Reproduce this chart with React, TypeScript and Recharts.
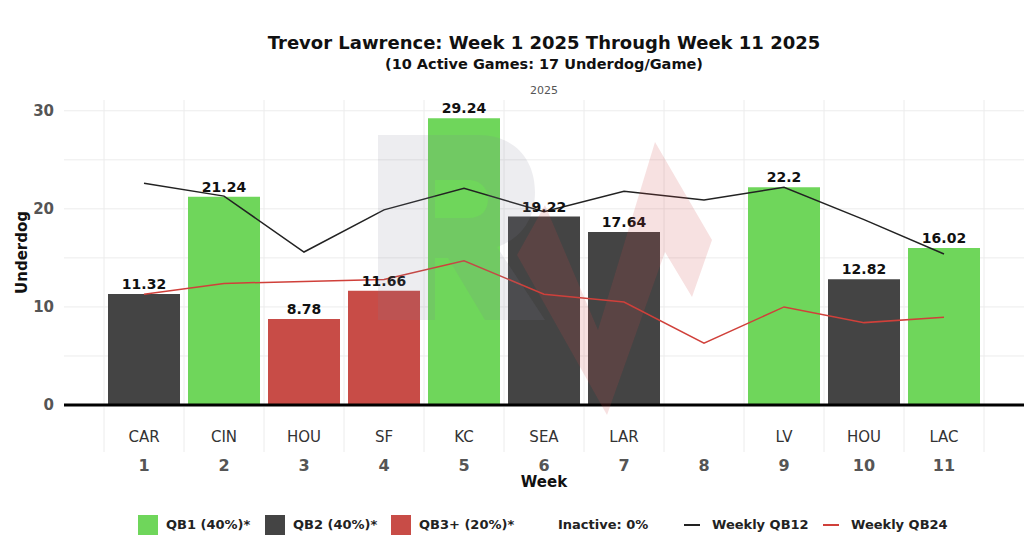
import React from 'react'
import {
  ComposedChart,
  Bar,
  Line,
  Cell,
  XAxis,
  YAxis,
  CartesianGrid,
  LabelList,
} from 'recharts'

// Trevor Lawrence weekly underdog points, weeks 1-11 of 2025

const weeks = [1, 2, 3, 4, 5, 6, 7, 8, 9, 10, 11]
const opponents = ['CAR', 'CIN', 'HOU', 'SF', 'KC', 'SEA', 'LAR', '', 'LV', 'HOU', 'LAC']
const points = [11.32, 21.24, 8.78, 11.66, 29.24, 19.22, 17.64, null, 22.2, 12.82, 16.02]
const tiers = ['QB2', 'QB1', 'QB3', 'QB3', 'QB1', 'QB2', 'QB2', '', 'QB1', 'QB2', 'QB1']
const weeklyQB12 = [22.6, 21.3, 15.6, 19.9, 22.1, 19.7, 21.8, 20.9, 22.2, 18.9, 15.4]
const weeklyQB24 = [11.3, 12.4, 12.6, 12.8, 14.7, 11.3, 10.5, 6.3, 10.0, 8.4, 8.95]

const yTicks = [0, 10, 20, 30]
const yGrid = [0, 5, 10, 15, 20, 25, 30]
const xDividers = [0.5, 1.5, 2.5, 3.5, 4.5, 5.5, 6.5, 7.5, 8.5, 9.5, 10.5, 11.5]

const TIER_COLORS: Record<string, string> = {
  QB1: '#6fd65b',
  QB2: '#444444',
  QB3: '#c84c47',
}

const WIDTH = 1024
const HEIGHT = 551
const X_AXIS_H = 146
const MARGIN = { top: 100, right: 0, bottom: 0, left: 0 }
const Y_AXIS_W = 64
const UNIT = (WIDTH - Y_AXIS_W) / 12

const FONT = '"DejaVu Sans", sans-serif'

const data = weeks.map((week, i) => ({
  week,
  opponent: opponents[i],
  points: points[i],
  tier: tiers[i],
  qb12: weeklyQB12[i],
  qb24: weeklyQB24[i],
}))

function WeekTick(props: any) {
  const { x, y, payload, index } = props
  const i = weeks.indexOf(payload.value)
  return (
    <g>
      <line x1={x - UNIT / 2} x2={x - UNIT / 2} y1={y - 6} y2={y + 39} stroke="#ececec" />
      {index === weeks.length - 1 && (
        <line x1={x + UNIT / 2} x2={x + UNIT / 2} y1={y - 6} y2={y + 39} stroke="#ececec" />
      )}
      <text x={x} y={y + 29} textAnchor="middle" fontSize={15} fill="#333" fontFamily={FONT}>
        {opponents[i]}
      </text>
      <text x={x} y={y + 58} textAnchor="middle" fontSize={16} fontWeight="bold" fill="#555" fontFamily={FONT}>
        {payload.value}
      </text>
    </g>
  )
}

const legendItems = [
  { kind: 'box', color: TIER_COLORS.QB1, label: 'QB1 (40%)*', x: 138 },
  { kind: 'box', color: TIER_COLORS.QB2, label: 'QB2 (40%)*', x: 265 },
  { kind: 'box', color: TIER_COLORS.QB3, label: 'QB3+ (20%)*', x: 391 },
  { kind: 'none', color: '', label: 'Inactive: 0%', x: 558 },
  { kind: 'line', color: '#222', label: 'Weekly QB12', x: 684 },
  { kind: 'line', color: '#d0403a', label: 'Weekly QB24', x: 823 },
]

export default function App() {
  return (
    <div style={{ position: 'relative', width: WIDTH, height: HEIGHT, fontFamily: FONT, background: '#fff' }}>
      <style>{'body{margin:0}'}</style>

      <div style={{ position: 'absolute', top: 32, left: 64, right: 0, textAlign: 'center', fontSize: 18, fontWeight: 'bold', color: '#111' }}>
        Trevor Lawrence: Week 1 2025 Through Week 11 2025
      </div>
      <div style={{ position: 'absolute', top: 56, left: 64, right: 0, textAlign: 'center', fontSize: 14.5, fontWeight: 'bold', color: '#111' }}>
        (10 Active Games: 17 Underdog/Game)
      </div>
      <div style={{ position: 'absolute', top: 84, left: 64, right: 0, textAlign: 'center', fontSize: 11, color: '#555' }}>
        2025
      </div>

      <div style={{ position: 'absolute', left: 0, top: 0 }}>
        <ComposedChart width={WIDTH} height={HEIGHT} data={data} margin={MARGIN}>
          <CartesianGrid stroke="#ececec" horizontalValues={yGrid} verticalValues={xDividers} />
          <XAxis
            dataKey="week"
            type="number"
            domain={[0, 12]}
            ticks={weeks}
            interval={0}
            tickLine={false}
            axisLine={{ stroke: '#000', strokeWidth: 3 }}
            tick={<WeekTick />}
            height={X_AXIS_H}
          />
          <YAxis
            domain={[0, 31.1]}
            ticks={yTicks}
            width={Y_AXIS_W}
            axisLine={false}
            tickLine={false}
            tick={{ fontSize: 15, fontWeight: 'bold', fill: '#555', fontFamily: FONT }}
            tickMargin={4}
            allowDataOverflow
            label={{
              value: 'Underdog',
              angle: -90,
              position: 'insideLeft',
              offset: 22,
              style: { fontSize: 15, fontWeight: 'bold', fill: '#111', fontFamily: FONT, textAnchor: 'middle' },
            }}
          />
          <Bar dataKey="points" barSize={72} isAnimationActive={false}>
            {data.map((d, i) => (
              <Cell key={i} fill={TIER_COLORS[d.tier] ?? 'transparent'} />
            ))}
            <LabelList
              dataKey="points"
              position="top"
              offset={5}
              style={{ fontSize: 14, fontWeight: 'bold', fill: '#111', fontFamily: FONT }}
            />
          </Bar>
          <Line dataKey="qb12" stroke="#222" strokeWidth={1.5} dot={false} isAnimationActive={false} />
          <Line dataKey="qb24" stroke="#d0403a" strokeWidth={1.5} dot={false} isAnimationActive={false} />
        </ComposedChart>
      </div>

      {/* faint logo watermark laid over the plot */}
      <svg width={WIDTH} height={HEIGHT} style={{ position: 'absolute', left: 0, top: 0, pointerEvents: 'none' }}>
        <path
          fillRule="evenodd"
          fill="rgba(125,130,150,0.14)"
          d="M378,135 L478,135 C515,135 535,160 535,192 C535,222 518,240 497,247 L545,320 L485,320 L448,258 L435,258 L435,320 L378,320 Z M435,180 L468,180 C482,180 488,190 488,199 C488,210 482,218 468,218 L435,218 Z"
        />
        <polygon
          fill="rgba(205,70,70,0.16)"
          points="545,205 598,330 655,142 712,240 692,297 665,252 607,415 517,255"
        />
      </svg>

      <div style={{ position: 'absolute', left: 64, right: 0, top: 473, textAlign: 'center', fontSize: 15, fontWeight: 'bold', color: '#111' }}>
        Week
      </div>

      {legendItems.map((item) => (
        <div
          key={item.label}
          style={{ position: 'absolute', left: item.x, top: 514, height: 21, display: 'flex', alignItems: 'center', fontSize: 13, fontWeight: 'bold', color: '#222' }}
        >
          {item.kind === 'box' && (
            <span style={{ width: 20, height: 20, background: item.color, marginRight: 8, display: 'inline-block' }} />
          )}
          {item.kind === 'line' && (
            <span style={{ width: 16, height: 2, background: item.color, marginRight: 12, display: 'inline-block' }} />
          )}
          {item.label}
        </div>
      ))}
    </div>
  )
}
